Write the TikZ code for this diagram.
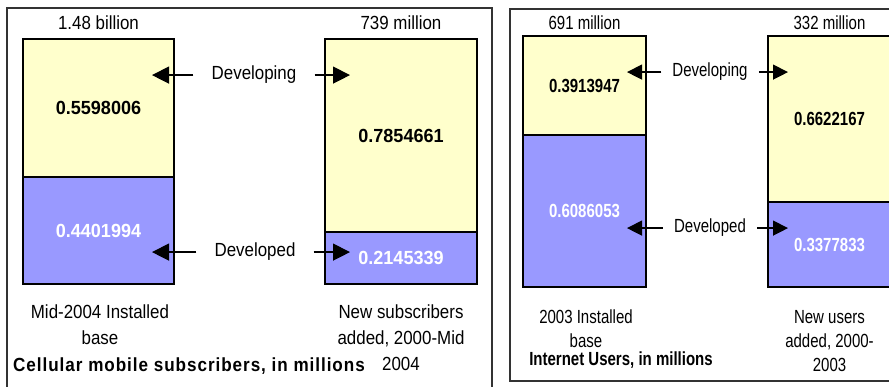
\documentclass[tikz,border=0pt]{standalone}
\usepackage{fontspec}
\setmainfont{Liberation Sans}
\newfontfamily\cellfont{Liberation Sans}[FakeStretch=0.89]
\newfontfamily\cellnumfont{Liberation Sans}[FakeStretch=0.95]
\newfontfamily\celltitlefont{Liberation Sans}[FakeStretch=0.9,LetterSpace=5]
\newfontfamily\netfont{Liberation Sans}[FakeStretch=0.79]
\usetikzlibrary{arrows.meta}
\definecolor{devyellow}{HTML}{FFFFCC}
\definecolor{devblue}{HTML}{9999FF}

\begin{document}
\begin{tikzpicture}[x=1pt,y=-1pt,
  panel/.style={draw=black!80, line width=1.2pt},
  seg/.style={draw=black, line width=1.5pt, inner sep=0pt, anchor=center},
  yseg/.style={seg, fill=devyellow, text=black},
  bseg/.style={seg, fill=devblue, text=white},
  txt/.style={inner sep=0pt, anchor=base},
  cell/.style={font=\cellfont\fontsize{19}{26}\selectfont},
  cellnum/.style={font=\cellnumfont\bfseries\fontsize{19}{26}\selectfont},
  celltitle/.style={font=\celltitlefont\bfseries\fontsize{19}{26}\selectfont},
  net/.style={font=\netfont\fontsize{19}{24}\selectfont},
  netnum/.style={font=\netfont\bfseries\fontsize{19}{24}\selectfont},
  multi/.style={inner sep=0pt, anchor=north, align=center},
  arrL/.style={-{Triangle[length=17pt,width=17pt]}, line width=1.3pt, shorten <=18pt},
  arrR/.style={-{Triangle[length=15pt,width=15pt]}, line width=1.3pt, shorten <=11pt}]

\useasboundingbox (0,0) rectangle (889,387);
\fill[white] (0,0) rectangle (889,387);

% panel frames
\draw[panel] (7,8) rectangle (492,400);
\draw[panel] (510,9) rectangle (905,381);

% ---------- cellular subscribers ----------
\node[yseg, cellnum, minimum width=151pt, minimum height=138pt] (cAdev) at (98.5,108) {0.5598006};
\node[bseg, cellnum, minimum width=151pt, minimum height=107pt] (cAdvd) at (98.5,230.5) {0.4401994};
\node[yseg, cellnum, minimum width=152pt, minimum height=193pt] (cBdev) at (401,135.5) {0.7854661};
\node[bseg, cellnum, minimum width=152pt, minimum height=52pt] (cBdvd) at (401,258) {0.2145339};

\node[txt, cell] (cAtot) at (98.5,30) {1.48 billion};
\node[txt, cell] (cBtot) at (401,30) {739 million};

\node[txt, cell] (cDevLbl) at (254,80) {Developing};
\node[txt, cell] (cDvdLbl) at (255,257) {Developed};

\coordinate (cTipA) at (152,0);
\coordinate (cTipB) at (350,0);
\draw[arrL] (cDevLbl.west) -- (cDevLbl.west -| cTipA);
\draw[arrL] (cDevLbl.east) -- (cDevLbl.east -| cTipB);
\draw[arrL] (cDvdLbl.west) -- (cDvdLbl.west -| cTipA);
\draw[arrL] (cDvdLbl.east) -- (cDvdLbl.east -| cTipB);

\node[multi, cell] (cAcap) at (100,305) {Mid-2004 Installed\\base};
\node[multi, cell] (cBcap) at (401,305) {New subscribers\\added, 2000-Mid\\2004};
\node[txt, celltitle, anchor=base west] (cTitle) at (13,371) {Cellular mobile subscribers, in millions};

% ---------- internet users ----------
\node[yseg, netnum, minimum width=123pt, minimum height=99pt] (nAdev) at (584.5,85.5) {0.3913947};
\node[bseg, netnum, minimum width=123pt, minimum height=152pt] (nAdvd) at (584.5,211) {0.6086053};
\node[yseg, netnum, minimum width=123pt, minimum height=166pt] (nBdev) at (829.5,119) {0.6622167};
\node[bseg, netnum, minimum width=123pt, minimum height=85pt] (nBdvd) at (829.5,244.5) {0.3377833};

\node[txt, net] (nAtot) at (584.5,30) {691 million};
\node[txt, net] (nBtot) at (829.5,30) {332 million};

\node[txt, net] (nDevLbl) at (710,77) {Developing};
\node[txt, net] (nDvdLbl) at (710,233) {Developed};

\coordinate (nTipA) at (627,0);
\coordinate (nTipB) at (788,0);
\draw[arrR] (nDevLbl.west) -- (nDevLbl.west -| nTipA);
\draw[arrR] (nDevLbl.east) -- (nDevLbl.east -| nTipB);
\draw[arrR] (nDvdLbl.west) -- (nDvdLbl.west -| nTipA);
\draw[arrR] (nDvdLbl.east) -- (nDvdLbl.east -| nTipB);

\node[multi, net] (nAcap) at (586,310) {2003 Installed\\base};
\node[multi, net] (nBcap) at (829.5,310) {New users\\added, 2000-\\2003};
\node[txt, netnum] (nTitle) at (621,365.5) {Internet Users, in millions};
\end{tikzpicture}
\end{document}
